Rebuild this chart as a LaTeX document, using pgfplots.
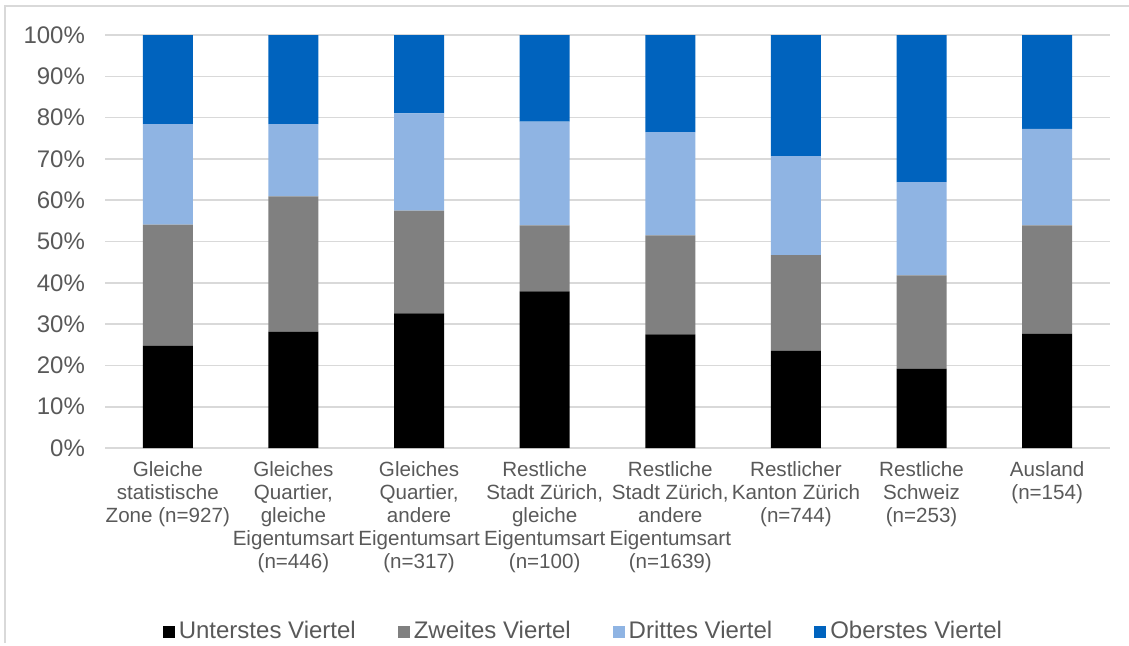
\documentclass[border=0pt]{standalone}
\usepackage{pgfplots}
\pgfplotsset{compat=1.18}
\usepackage{fontspec}
\setmainfont{Liberation Sans}
\definecolor{c1}{HTML}{000000}
\definecolor{c2}{HTML}{808080}
\definecolor{c3}{HTML}{8FB4E3}
\definecolor{c4}{HTML}{0063BE}
\definecolor{gridc}{HTML}{D9D9D9}
\definecolor{txt}{HTML}{595959}
\begin{document}
\begin{tikzpicture}
\path[use as bounding box] (-52.5pt,-98.5pt) rectangle (512pt,224pt);
\draw[gridc, line width=0.8pt] (-50pt,-97.5pt) -- (-50pt,221pt) -- (512pt,221pt);
\begin{axis}[
  at={(0pt,0pt)}, anchor=south west,
  scale only axis, width=502.5pt, height=206.5pt,
  ybar stacked, bar width=25pt,
  xmin=-0.5, xmax=7.5, ymin=0, ymax=100,
  axis line style={draw=none},
  ymajorgrids, grid style={gridc, line width=0.8pt},
  major tick length=0pt,
  ytick={0,10,...,100},
  yticklabel={\pgfmathprintnumber{\tick}\%},
  /pgf/number format/assume math mode=true,
  yticklabel style={font=\fontsize{12}{14}\selectfont, text=txt, xshift=-6.5pt},
  xtick=data,
  xticklabels={{Gleiche\\statistische\\Zone (n=927)},
    {Gleiches\\Quartier,\\gleiche\\Eigentumsart\\(n=446)},
    {Gleiches\\Quartier,\\andere\\Eigentumsart\\(n=317)},
    {Restliche\\Stadt Zürich,\\gleiche\\Eigentumsart\\(n=100)},
    {Restliche\\Stadt Zürich,\\andere\\Eigentumsart\\(n=1639)},
    {Restlicher\\Kanton Zürich\\(n=744)},
    {Restliche\\Schweiz\\(n=253)},
    {Ausland\\(n=154)}},
  xticklabel style={font=\fontsize{10.3}{11.5}\selectfont, text=txt, align=center, yshift=-3pt},
  legend style={at={(0.477,-0.445)}, anchor=center, draw=none,
    legend columns=4, font=\fontsize{12}{14}\selectfont, text=txt,
    /tikz/every even column/.append style={column sep=19pt}},
  legend image code/.code={\fill[#1] (0pt,-3pt) rectangle (6pt,3pt);},
  legend cell align=left,
]
\addplot[fill=c1, draw=none] coordinates {(0,24.8) (1,28.2) (2,32.6) (3,37.9) (4,27.5) (5,23.5) (6,19.2) (7,27.7)};
\addplot[fill=c2, draw=none] coordinates {(0,29.3) (1,32.7) (2,24.9) (3,16.0) (4,24.0) (5,23.2) (6,22.6) (7,26.2)};
\addplot[fill=c3, draw=none] coordinates {(0,24.3) (1,17.5) (2,23.5) (3,25.1) (4,25.0) (5,24.0) (6,22.6) (7,23.4)};
\addplot[fill=c4, draw=none] coordinates {(0,21.6) (1,21.6) (2,19.0) (3,21.0) (4,23.5) (5,29.3) (6,35.6) (7,22.7)};
\legend{Unterstes Viertel, Zweites Viertel, Drittes Viertel, Oberstes Viertel}
\end{axis}
\end{tikzpicture}
\end{document}
